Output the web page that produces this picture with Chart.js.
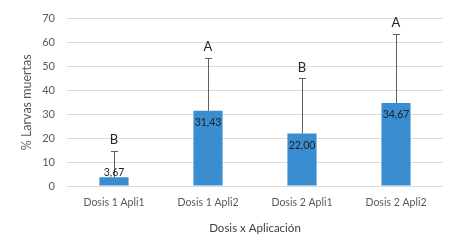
<!DOCTYPE html>
<html>
<head>
<meta charset="utf-8">
<script src="https://cdn.jsdelivr.net/npm/chart.js@4"></script>
<style>
  html, body { margin: 0; padding: 0; background: #fff; }
  #wrap { width: 449px; height: 241px; }
</style>
</head>
<body>
<div id="wrap"><canvas id="chart"></canvas></div>
<script>
const categories = ['Dosis 1 Apli1', 'Dosis 1 Apli2', 'Dosis 2 Apli1', 'Dosis 2 Apli2'];
const means = [3.67, 31.43, 22.00, 34.67];
const errUp = [11.0, 22.0, 23.0, 29.0];   // upper error bar lengths
const letters = ['B', 'A', 'B', 'A'];
const yTicks = [0, 10, 20, 30, 40, 50, 60, 70];

const FONT = 'Lato, "Open Sans", sans-serif';

// error bars, significance letters and value labels
const annot = {
    id: 'annot',
    afterDatasetsDraw(chart) {
        const ctx = chart.ctx;
        const y = chart.scales.y;
        const meta = chart.getDatasetMeta(0);
        ctx.save();
        meta.data.forEach((bar, i) => {
            const x = bar.x;
            const yTop = y.getPixelForValue(means[i]);
            const yErr = y.getPixelForValue(means[i] + errUp[i]);
            const base = y.getPixelForValue(0);

            // error bar
            ctx.strokeStyle = '#5f5f5f';
            ctx.lineWidth = 1;
            ctx.beginPath();
            ctx.moveTo(Math.round(x) + 0.5, yTop);
            ctx.lineTo(Math.round(x) + 0.5, Math.round(yErr) + 0.5);
            ctx.moveTo(Math.round(x) - 3, Math.round(yErr) + 0.5);
            ctx.lineTo(Math.round(x) + 4, Math.round(yErr) + 0.5);
            ctx.stroke();

            // letter
            ctx.fillStyle = '#262626';
            ctx.font = '13px ' + FONT;
            ctx.textAlign = 'center';
            ctx.textBaseline = 'middle';
            ctx.fillText(letters[i], x, yErr - 11);

            // value label
            ctx.font = '10.5px ' + FONT;
            ctx.fillStyle = '#1f1f1f';
            const ly = Math.min(yTop + 12, base - 13);
            ctx.fillText(means[i].toFixed(2).replace('.', ','), x, ly);
        });
        ctx.restore();
    }
};

new Chart(document.getElementById('chart'), {
    type: 'bar',
    data: {
        labels: categories,
        datasets: [{
            data: means,
            backgroundColor: '#3a8dd0',
            borderWidth: 0,
            categoryPercentage: 1,
            barPercentage: 0.31
        }]
    },
    options: {
        responsive: true,
        maintainAspectRatio: false,
        animation: false,
        layout: { padding: { top: 13, right: 6, bottom: 0, left: 0 } },
        plugins: { legend: { display: false }, tooltip: { enabled: false } },
        scales: {
            x: {
                grid: { display: false, drawTicks: false },
                border: { display: false },
                ticks: { color: '#595959', font: { family: FONT, size: 10.5 }, padding: 10, maxRotation: 0 },
                title: {
                    display: true,
                    text: 'Dosis x Aplicación',
                    color: '#404040',
                    font: { family: FONT, size: 11.5 },
                    padding: { top: 4, bottom: 6 }
                },
                afterFit(s) { s.height = 55; }
            },
            y: {
                min: 0,
                max: 70,
                afterBuildTicks(s) { s.ticks = yTicks.map(v => ({ value: v })); },
                grid: { color: '#dcdcdc', drawTicks: false },
                border: { display: false },
                ticks: { color: '#595959', font: { family: FONT, size: 11 }, padding: 12 },
                title: {
                    display: true,
                    text: '% Larvas muertas',
                    color: '#595959',
                    font: { family: FONT, size: 12.5 },
                    padding: { top: 19, bottom: 0 }
                },
                afterFit(s) { s.width = 67; }
            }
        }
    },
    plugins: [annot]
});
</script>
</body>
</html>
